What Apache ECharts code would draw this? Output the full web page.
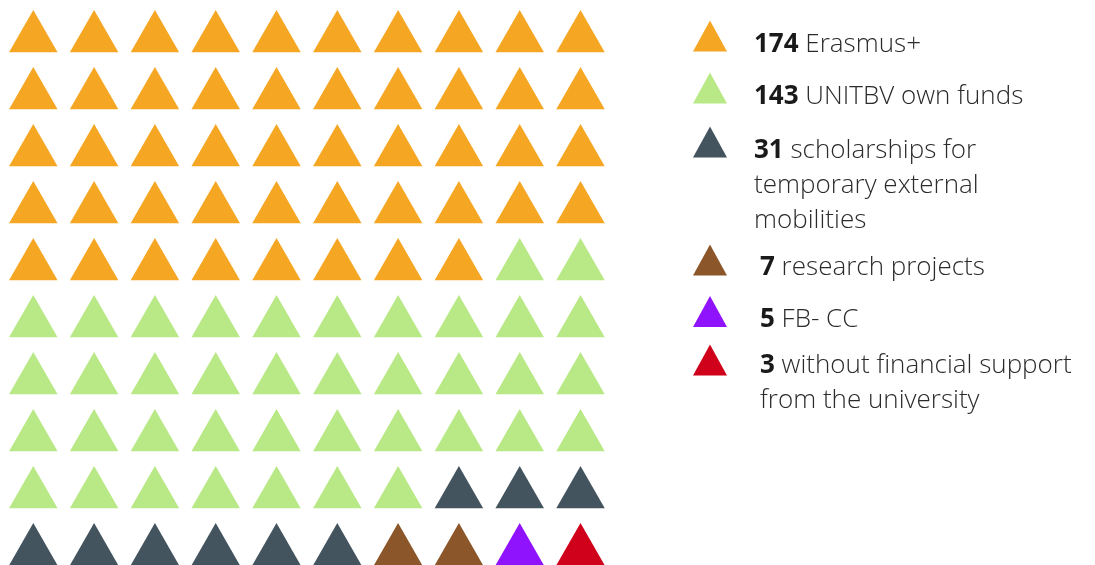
<!DOCTYPE html>
<html><head><meta charset="utf-8">
<script src="https://cdn.jsdelivr.net/npm/echarts@6/dist/echarts.min.js"></script>
<style>html,body{margin:0;padding:0;background:#fff}#c{width:1095px;height:565px}</style>
</head><body><div id="c"></div>
<script>
// Data
const categories = ['Erasmus+', 'UNITBV own funds', 'scholarships for\ntemporary external\nmobilities', 'research projects', 'FB- CC', 'without financial support\nfrom the university'];
const values = [174, 143, 31, 7, 5, 3];
const cellCounts = [48, 39, 9, 2, 1, 1]; // triangles per category in the 10x10 grid
const colors = ['#F5A623', '#B8E986', '#43545F', '#8B572A', '#9013FE', '#D0021B'];

const COLS = 10;
let idx = 0;
const series = categories.map((name, k) => {
  const pts = [];
  for (let j = 0; j < cellCounts[k]; j++, idx++) pts.push([idx % COLS, Math.floor(idx / COLS)]);
  return {
    type: 'scatter', name: name, data: pts, symbol: 'triangle',
    symbolSize: [48.5, 42.3], clip: false, silent: true,
    itemStyle: { color: colors[k], opacity: 1 }
  };
});

const legendLayout = [
  { top: 10, padTop: 17, padLeft: 22 },
  { top: 62, padTop: 17, padLeft: 22 },
  { top: 46, padTop: 87, padLeft: 22 },
  { top: 235, padTop: 15, padLeft: 28 },
  { top: 286, padTop: 16, padLeft: 28 },
  { top: 302, padTop: 46, padLeft: 28 }
];
const FONT = 'Open Sans';
const FS = 26;
const legends = categories.map((name, k) => ({
  data: [name], left: 693, top: legendLayout[k].top, orient: 'vertical',
  padding: 0, itemWidth: 34, itemHeight: 31, icon: 'triangle', selectedMode: false,
  itemStyle: { opacity: 1 },
  formatter: n => '{b|' + values[k] + '} ' + n,
  textStyle: {
    fontFamily: FONT, fontSize: FS, fontWeight: 300, color: '#2b2b2b', lineHeight: 35,
    padding: [legendLayout[k].padTop, 0, 0, legendLayout[k].padLeft],
    rich: { b: { fontFamily: FONT, fontSize: FS, fontWeight: 'bold', color: '#1a1a1a', lineHeight: 35 } }
  }
}));

const chart = echarts.init(document.getElementById('c'), null, { renderer: 'canvas' });
chart.setOption({
  animation: false,
  legend: legends,
  grid: { left: 2.9, top: 2.7, width: 608, height: 541.5 },
  xAxis: { type: 'value', min: -0.5, max: 9.5, show: false },
  yAxis: { type: 'value', min: -0.5, max: 9, inverse: true, show: false },
  series: series
});
</script></body></html>
